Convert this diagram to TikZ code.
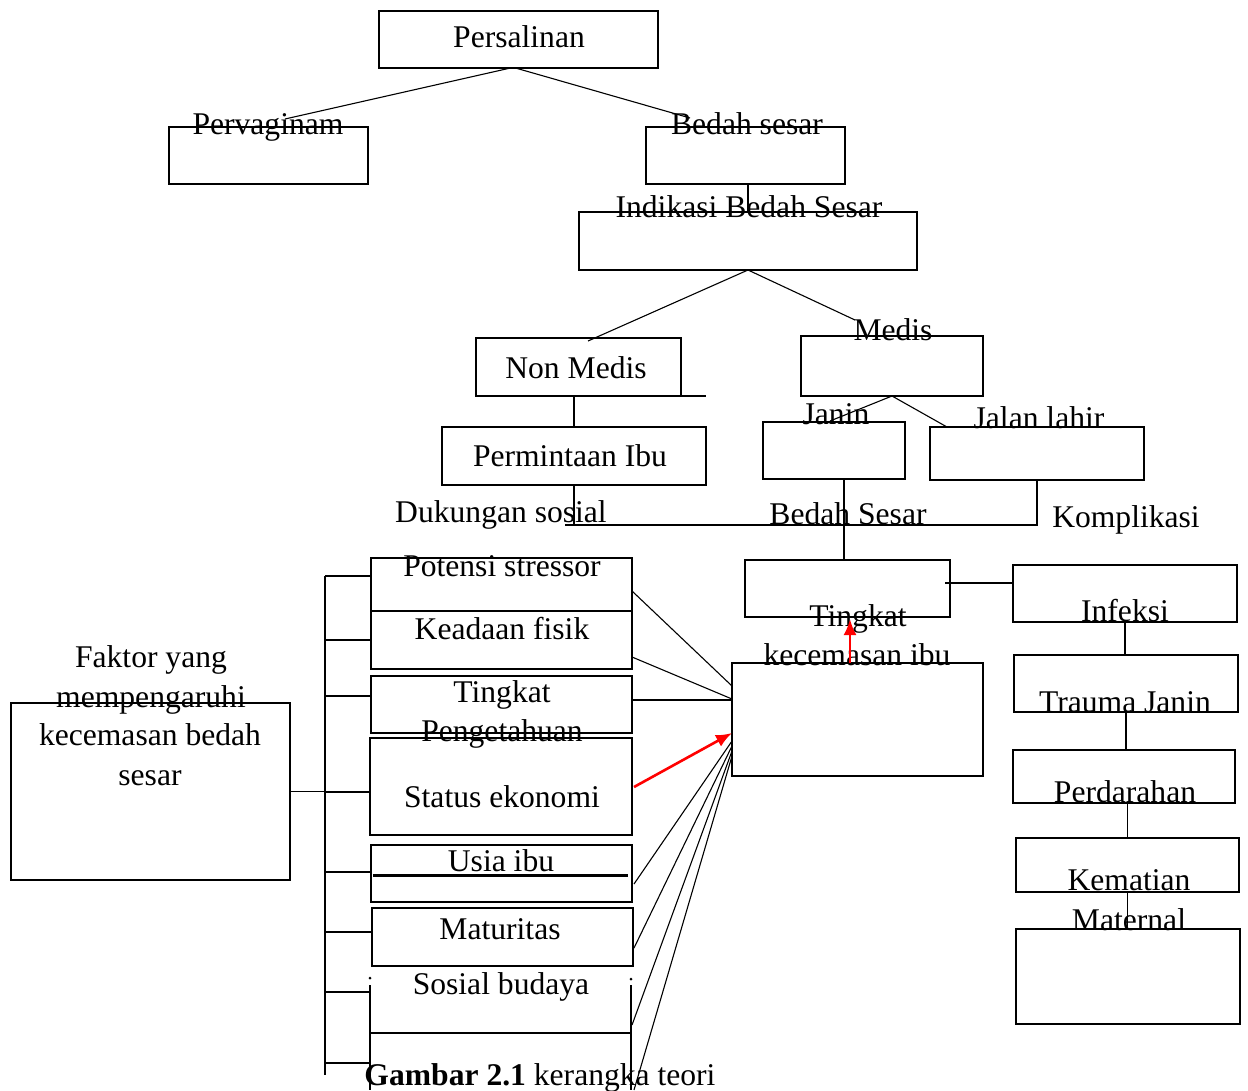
\documentclass[tikz,border=0pt]{standalone}
\usepackage{fontspec}
\setmainfont{Liberation Serif}
\usetikzlibrary{calc,arrows.meta}
\begin{document}
\begin{tikzpicture}[x=1pt,y=-1pt,
  box/.style={draw, line width=2.2pt, inner sep=0pt, outer sep=0pt},
  lbl/.style={inner sep=0pt, anchor=base, font=\fontsize{31.6pt}{39.3pt}\selectfont},
  conn/.style={line width=1.1pt},
  redarr/.style={draw=red, line width=2.6pt, -{Latex[length=16pt,width=13pt]}}]
\useasboundingbox (0,0) rectangle (1248,1090);

% ---------- boxes ----------
\node[box, minimum width=279pt, minimum height=57pt] (persal) at (518.5,39.5) {};
\node[box, minimum width=199pt, minimum height=57pt] (pvbox) at (268.5,155.5) {};
\node[box, minimum width=199pt, minimum height=57pt] (bsbox) at (745.5,155.5) {};
\node[box, minimum width=338pt, minimum height=58pt] (ibox) at (748,241) {};
\node[box, minimum width=205pt, minimum height=58pt] (nmbox) at (578.5,367) {};
\node[box, minimum width=182pt, minimum height=60pt] (mbox) at (892,366) {};
\node[box, minimum width=264pt, minimum height=58pt] (pibox) at (574,456) {};
\node[box, minimum width=142pt, minimum height=57pt] (jbox) at (834,450.5) {};
\node[box, minimum width=214pt, minimum height=53pt] (jlbox) at (1037,453.5) {};
\node[box, minimum width=205pt, minimum height=57pt] (bsbox2) at (847.5,588.5) {};
\node[box, minimum width=251pt, minimum height=113pt] (tkbox) at (857.5,719.5) {};
\node[box, minimum width=224pt, minimum height=57pt] (infbox) at (1125,593.5) {};
\node[box, minimum width=224pt, minimum height=57pt] (trbox) at (1126,683.5) {};
\node[box, minimum width=222pt, minimum height=53pt] (pdbox) at (1124,776.5) {};
\node[box, minimum width=223pt, minimum height=54pt] (kmbox) at (1127.5,865) {};
\node[box, minimum width=224pt, minimum height=95pt] (embox) at (1128,976.5) {};
\node[box, minimum width=279pt, minimum height=177pt] (fkbox) at (150.5,791.5) {};
\node[box, minimum width=261pt, minimum height=53pt] (psbox) at (501.5,584.5) {};
\node[box, minimum width=261pt, minimum height=58pt] (kfbox) at (501.5,640) {};
\node[box, minimum width=261pt, minimum height=57pt] (tpbox) at (501.5,704.5) {};
\node[box, minimum width=262pt, minimum height=97pt] (sebox) at (501,786.5) {};
\node[box, minimum width=261pt, minimum height=57pt] (uibox) at (501.5,873.5) {};
\node[box, minimum width=261pt, minimum height=58pt] (mtbox) at (502.5,937) {};

% inner line of Usia ibu box and extension of Non Medis box
\draw[line width=3pt] ($(uibox.west)+(2,1.5)$) -- ($(uibox.east)+(-4,1.5)$);
\draw[line width=2.2pt] (nmbox.south east) -- ++(25,0);

% Sosial budaya open frame
\coordinate (sbLt) at (370,985);
\coordinate (sbRt) at (631,985);
\draw[line width=2.6pt] (sbLt) -- (370,1090);
\draw[line width=2.6pt] (sbRt) -- (631,1090);
\fill (370,978) circle (1.5pt);
\fill (631,979) circle (1.5pt);
\draw[conn] (370,1033) -- (631,1033);

% ---------- labels ----------
\node[lbl] (tPersal) at (519,47) {Persalinan};
\node[lbl] (tPerv) at (268,134) {Pervaginam};
\node[lbl] (tBs1) at (747,134) {Bedah sesar};
\node[lbl] (tInd) at (749,217) {Indikasi Bedah Sesar};
\node[lbl] (tNm) at (576,378) {Non Medis};
\node[lbl] (tMed) at (893,340) {Medis};
\node[lbl] (tPi) at (570,466) {Permintaan Ibu};
\node[lbl] (tDuk) at (501,522) {Dukungan sosial};
\node[lbl] (tJan) at (836,424) {Janin};
\node[lbl] (tJl) at (1039,428) {Jalan lahir};
\node[lbl] (tBs2) at (848,524) {Bedah Sesar};
\node[lbl] (tKomp) at (1126,527) {Komplikasi};
\node[lbl] (tTk1) at (858,626) {Tingkat};
\node[lbl] (tTk2) at (857,665) {kecemasan ibu};
\node[lbl] (tInf) at (1125,621) {Infeksi};
\node[lbl] (tTr) at (1125,712) {Trauma Janin};
\node[lbl] (tPd) at (1125,802) {Perdarahan};
\node[lbl] (tKm1) at (1129,890) {Kematian};
\node[lbl] (tKm2) at (1129,930) {Maternal};
\node[lbl] (tPs) at (502,576) {Potensi stressor};
\node[lbl] (tKf) at (502,639) {Keadaan fisik};
\node[lbl] (tTp1) at (502,702) {Tingkat};
\node[lbl] (tTp2) at (502,741) {Pengetahuan};
\node[lbl] (tSe) at (502,807) {Status ekonomi};
\node[lbl] (tUi) at (501,871) {Usia ibu};
\node[lbl] (tMt) at (500,939) {Maturitas};
\node[lbl] (tSb) at (501,994) {Sosial budaya};
\node[lbl] (tFk1) at (151,667) {Faktor yang};
\node[lbl] (tFk2) at (151,707) {mempengaruhi};
\node[lbl] (tFk3) at (150,745) {kecemasan bedah};
\node[lbl] (tFk4) at (150,785) {sesar};
\node[lbl] (cap) at (540,1085) {\textbf{Gambar 2.1} kerangka teori};

% ---------- free connector ends ----------
\coordinate (a1) at (285,119);
\coordinate (a2) at (690,118);
\coordinate (a3) at (588,341);
\coordinate (a4) at (855,320);
\coordinate (a5) at (830,421);
\coordinate (a6) at (947,427);
\coordinate (trT) at (325,576);
\coordinate (trB) at (325,1075);
\coordinate (sb1) at (370,992);
\coordinate (sb2) at (370,1063);
\coordinate (sbRa) at (632,1025);
\coordinate (sbRb) at (634,1090);

% ---------- top tree ----------
\draw[conn] ($(persal.south)+(-8,0)$) -- (a1);
\draw[conn] ($(persal.south)+(-3,0)$) -- (a2);
\draw[conn] (ibox.north |- bsbox.south) -- (ibox.north);
\draw[conn] (ibox.south) -- (a3);
\draw[conn] (ibox.south) -- (a4);
\draw[conn] (pibox.north |- nmbox.south) -- (pibox.north);
\draw[conn] (pibox.south) -- ++(0,40);
\draw[conn] ($(pibox.south)+(-9,40)$) -| (jlbox.south);
\draw[conn] (mbox.south) -- (a5);
\draw[conn] (mbox.south) -- (a6);
\draw[conn] ($(jbox.south)+(10,0)$) -- ($(bsbox2.north)+(-3.5,0)$);
\draw[conn] ($(bsbox2.east)+(-5,-5.5)$) -- ($(infbox.west)+(0,-10.5)$);
\draw[conn] (infbox.south) -- (infbox.south |- trbox.north);
\draw[conn] (trbox.south) -- (trbox.south |- pdbox.north);
\draw[conn] (kmbox.north |- pdbox.south) -- (kmbox.north);
\draw[conn] (kmbox.south) -- (kmbox.south |- embox.north);
\draw[redarr] ($(tkbox.north)+(-7.5,0)$) -- ++(0,-44);

% ---------- left tree ----------
\draw[conn] (fkbox.east) -- ++(35,0);
\draw[conn] (trT) -- (trB);
\draw[conn] ($(psbox.west)+(0,-8.5)$) -- ++(-46,0);
\draw[conn] (kfbox.west) -- ++(-46,0);
\draw[conn] ($(tpbox.west)+(0,-8.5)$) -- ++(-46,0);
\draw[conn] ($(sebox.west)+(0,5.5)$) -- ++(-45,0);
\draw[conn] ($(uibox.west)+(0,-1.5)$) -- ++(-46,0);
\draw[conn] ($(mtbox.west)+(0,-5)$) -- ++(-47,0);
\draw[conn] (sb1) -- ++(-45,0);
\draw[conn] (sb2) -- ++(-45,0);

% ---------- factors to anxiety box ----------
\draw[conn] ($(psbox.east)+(0,6.5)$) -- ($(tkbox.west)+(0,-33.5)$);
\draw[conn] ($(kfbox.east)+(0,17)$) -- ($(tkbox.west)+(0,-20.5)$);
\draw[conn] ($(tpbox.east)+(0,-4.5)$) -- ($(tkbox.west)+(0,-19.5)$);
\draw[redarr] ($(sebox.east)+(2,0.5)$) -- ($(tkbox.west)+(0,13.5)$);
\draw[conn] ($(uibox.east)+(2,10.5)$) -- ($(tkbox.west)+(0,21.5)$);
\draw[conn] ($(mtbox.east)+(1,11)$) -- ($(tkbox.west)+(0,26.5)$);
\draw[conn] (sbRa) -- ($(tkbox.west)+(0,31.5)$);
\draw[conn] (sbRb) -- ($(tkbox.west)+(0,36.5)$);
\end{tikzpicture}
\end{document}
